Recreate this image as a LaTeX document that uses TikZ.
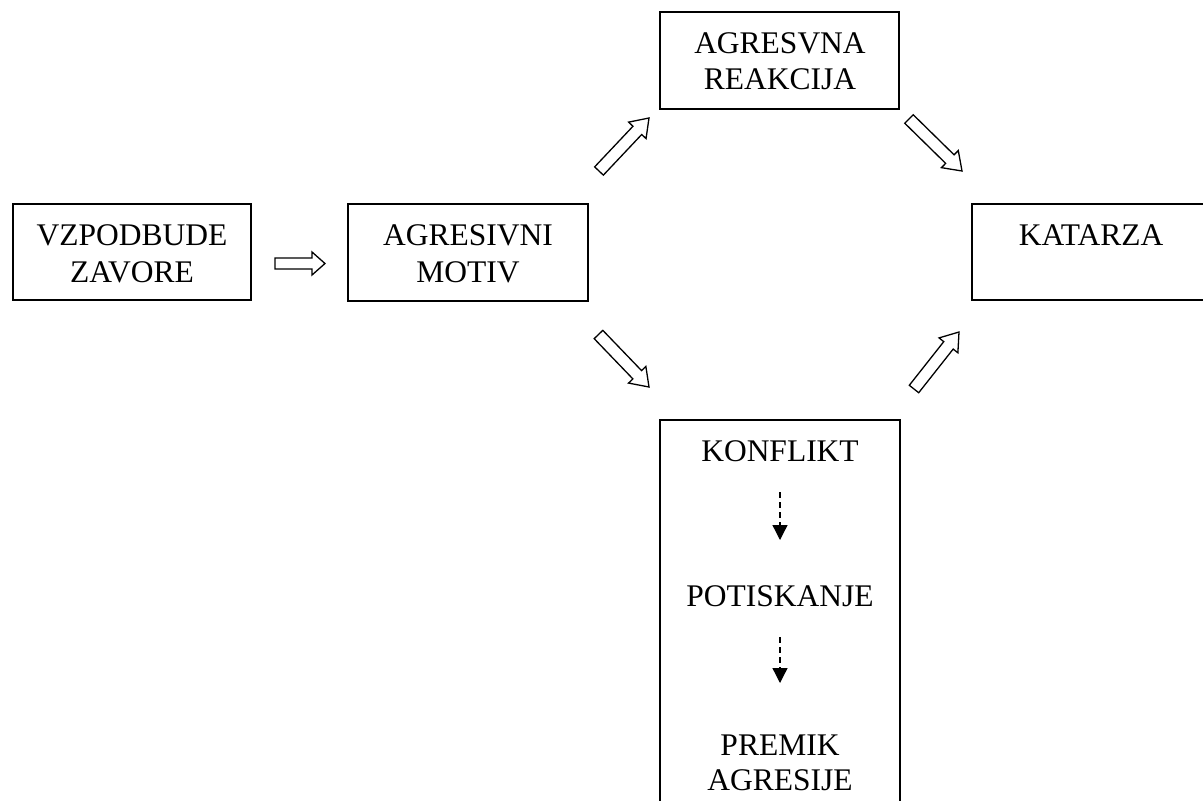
\documentclass[tikz,border=0pt]{standalone}
\usepackage{fontspec}
\setmainfont{Liberation Serif}
\usetikzlibrary{calc,arrows.meta}

\tikzset{
  box/.style={draw, line width=1.3pt, inner sep=0pt},
  lbl/.style={anchor=base, inner sep=0pt, font=\fontsize{31.5}{37}\selectfont},
  hollow/.style={draw, fill=white, line width=1.3pt, line join=miter},
  dashlink/.style={line width=1.3pt, dash pattern=on 6pt off 4pt,
    -{Triangle[width=15pt,length=15pt]}}
}

% outlined block arrow from #1 to #2, head length #3, shaft half width #4, head half width #5
\newcommand\hollowarrow[5]{%
  \path ($(#2)!#3!(#1)$) coordinate (hb);
  \draw[hollow] ($(#1)!#4!90:(#2)$) -- ($(hb)!#4!90:(#2)$) -- ($(hb)!#5!90:(#2)$)
    -- (#2) -- ($(hb)!#5!-90:(#2)$) -- ($(hb)!#4!-90:(#2)$) -- ($(#1)!#4!-90:(#2)$) -- cycle;
}

\begin{document}
\begin{tikzpicture}[x=1pt,y=-1pt]
\useasboundingbox (0,0) rectangle (1203,801);
\clip (0,0) rectangle (1203,801);

% boxes
\node[box, minimum width=238pt, minimum height=96pt] (vz)  at (132,252)    {};
\node[box, minimum width=240pt, minimum height=97pt] (am)  at (468,252.5)  {};
\node[box, minimum width=239pt, minimum height=97pt] (ar)  at (779.5,60.5) {};
\node[box, minimum width=240pt, minimum height=96pt] (kat) at (1092,252)   {};
\node[box, minimum width=240pt, minimum height=420pt] (low) at (780,630)   {};

% labels
\node[lbl] (vz1) at (132,245) {VZPODBUDE};
\node[lbl] (vz2) at (132,282) {ZAVORE};
\node[lbl] (am1) at (468,245) {AGRESIVNI};
\node[lbl] (am2) at (468,282) {MOTIV};
\node[lbl] (ar1) at (780,53) {AGRESVNA};
\node[lbl] (ar2) at (780,89) {REAKCIJA};
\node[lbl] (kt1) at (1091,245) {KATARZA};
\node[lbl] (lo1) at (780,461) {KONFLIKT};
\node[lbl] (lo2) at (780,606) {POTISKANJE};
\node[lbl] (lo3) at (780,755) {PREMIK};
\node[lbl] (lo4) at (780,790) {AGRESIJE};

% dashed steps inside the lower box
\coordinate (d1a) at (780,492);
\coordinate (d1b) at (780,540);
\coordinate (d2a) at (780,637);
\coordinate (d2b) at (780,683);
\draw[dashlink] (d1a) -- (d1b);
\draw[dashlink] (d2a) -- (d2b);

% block arrows between boxes
\coordinate (h1a) at (275,263.5);
\coordinate (h1b) at (325,263.5);
\coordinate (u1a) at (599,171);
\coordinate (u1b) at (649,118);
\coordinate (r1a) at (909,119);
\coordinate (r1b) at (962,171);
\coordinate (l1a) at (598.5,334.5);
\coordinate (l1b) at (649,387);
\coordinate (k1a) at (914,389);
\coordinate (k1b) at (959,332);

\hollowarrow{h1a}{h1b}{13pt}{5.5pt}{11.5pt}
\hollowarrow{u1a}{u1b}{17pt}{6pt}{12pt}
\hollowarrow{r1a}{r1b}{17pt}{6pt}{12pt}
\hollowarrow{l1a}{l1b}{17pt}{6pt}{12pt}
\hollowarrow{k1a}{k1b}{17pt}{6pt}{12pt}
\end{tikzpicture}
\end{document}
